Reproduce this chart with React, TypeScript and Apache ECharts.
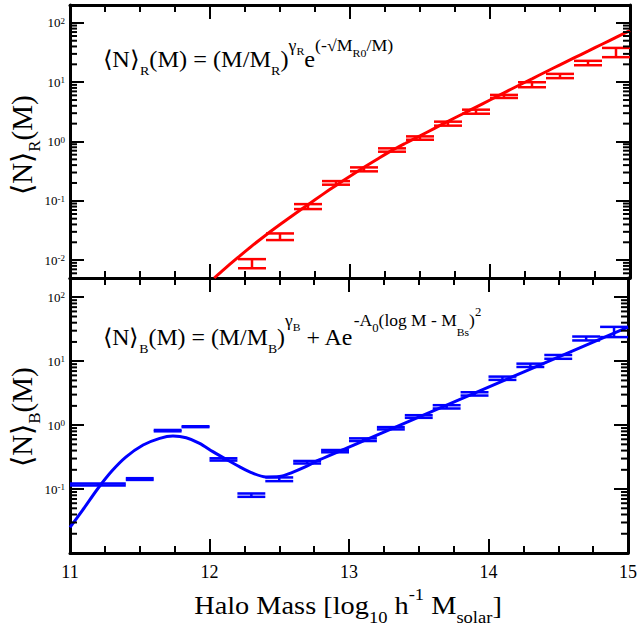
import React, { useEffect, useRef } from 'react';
import * as echarts from 'echarts';

// ---------- axis / tick data ----------
const X_MIN = 11;
const X_MAX = 15;
const xTickValues = [11, 12, 13, 14, 15];
const xTickLabels = ['11', '12', '13', '14', '15'];
const topYMin = 0.005;
const topYMax = 200;
const bottomYMin = 0.01;
const bottomYMax = 200;
const topYTickExps = [-2, -1, 0, 1, 2];
const bottomYTickExps = [-1, 0, 1, 2];
const minorMultipliers = [2, 3, 4, 5, 6, 7, 8, 9];
const minorDecades = [0.001, 0.01, 0.1, 1, 10, 100];

// ---------- red (top panel) ----------
const redBinLow = [12.2, 12.4, 12.6, 12.8, 13.0, 13.2, 13.4, 13.6, 13.8, 14.0, 14.2, 14.4, 14.6, 14.8];
const redBinHigh = [12.4, 12.6, 12.8, 13.0, 13.2, 13.4, 13.6, 13.8, 14.0, 14.2, 14.4, 14.6, 14.8, 15.0];
const redLow = [0.0073, 0.0218, 0.0726, 0.187, 0.314, 0.673, 1.07, 1.85, 2.94, 5.42, 8.22, 11.7, 19.3, 26.4];
const redHigh = [0.0104, 0.0282, 0.088, 0.215, 0.366, 0.767, 1.22, 2.16, 3.44, 6.1, 9.98, 13.8, 22.9, 37.8];

const redCurveX = [12.03, 12.1, 12.2, 12.3, 12.4, 12.5, 12.6, 12.7, 12.8, 12.9, 13.0, 13.1, 13.2, 13.3, 13.4, 13.5,
  13.6, 13.7, 13.8, 13.9, 14.0, 14.1, 14.2, 14.3, 14.4, 14.5, 14.6, 14.7, 14.8, 14.9, 15.0];
const redCurveY = [0.005, 0.007, 0.0111, 0.0174, 0.0266, 0.0398, 0.0589, 0.0861, 0.126, 0.182, 0.26, 0.367, 0.513, 0.708, 0.944, 1.245,
  1.65, 2.19, 2.88, 3.8, 5.01, 6.61, 8.71, 11.4, 15.0, 19.6, 25.6, 33.4, 43.6, 56.9, 74.1];

// ---------- blue (bottom panel) ----------
const blueBinLow = [11.0, 11.4, 11.6, 11.8, 12.0, 12.2, 12.4, 12.6, 12.8, 13.0, 13.2, 13.4, 13.6, 13.8, 14.0, 14.2, 14.4, 14.6, 14.8];
const blueBinHigh = [11.4, 11.6, 11.8, 12.0, 12.2, 12.4, 12.6, 12.8, 13.0, 13.2, 13.4, 13.6, 13.8, 14.0, 14.2, 14.4, 14.6, 14.8, 15.0];
const blueLow = [0.114, 0.139, 0.8, 0.93, 0.279, 0.0756, 0.133, 0.251, 0.376, 0.564, 0.857, 1.3, 1.82, 2.9, 5.1, 8.12, 10.9, 21.1, 23.8];
const blueHigh = [0.122, 0.148, 0.84, 0.96, 0.303, 0.0853, 0.152, 0.275, 0.408, 0.621, 0.931, 1.43, 2.05, 3.27, 5.74, 9.15, 12.5, 24.3, 34.4];

const blueCurveX = [11.0, 11.1, 11.2, 11.3, 11.4, 11.524, 11.643, 11.738, 11.833, 11.929, 12.024, 12.119, 12.214, 12.31, 12.405,
  12.5, 12.595, 12.69, 12.786, 13.0, 13.25, 13.5, 13.75, 14.0, 14.25, 14.5, 14.75, 15.0];
const blueCurveY = [0.0251, 0.0501, 0.102, 0.191, 0.316, 0.488, 0.621, 0.675, 0.635, 0.519, 0.385, 0.292, 0.224, 0.177, 0.155,
  0.157, 0.183, 0.224, 0.285, 0.452, 0.776, 1.33, 2.29, 3.94, 6.76, 11.6, 19.9, 34.1];

// ---------- helpers ----------
const SERIF = 'Liberation Serif';
const RED = '#ff0000';
const BLUE = '#0000ff';

const pairs = (xs: number[], ys: number[]) => xs.map((x, i) => [x, ys[i]]);
const bars = (lo: number[], hi: number[], yl: number[], yh: number[]) =>
  lo.map((x, i) => [x, hi[i], yl[i], yh[i]]);
const minorValues = (min: number, max: number) => {
  const out: number[][] = [];
  minorDecades.forEach((d) => minorMultipliers.forEach((m) => {
    const v = m * d;
    if (v > min * 1.0001 && v < max * 0.9999) out.push([X_MIN, v]);
  }));
  return out;
};

const errorBarRender = (color: string) => (params: any, api: any) => {
  const x0 = api.value(0), x1 = api.value(1), lo = api.value(2), hi = api.value(3);
  const a = api.coord([x0, lo]);
  const b = api.coord([x1, lo]);
  const c = api.coord([x0, hi]);
  const d = api.coord([x1, hi]);
  const xm = (a[0] + b[0]) / 2;
  const style = { stroke: color, lineWidth: 2.5 };
  return {
    type: 'group',
    children: [
      { type: 'line', shape: { x1: a[0], y1: a[1], x2: b[0], y2: b[1] }, style },
      { type: 'line', shape: { x1: c[0], y1: c[1], x2: d[0], y2: d[1] }, style },
      { type: 'line', shape: { x1: xm, y1: a[1], x2: xm, y2: c[1] }, style },
    ],
  };
};

const minorTickRender = (params: any, api: any) => {
  const cs = params.coordSys;
  const y = api.coord([X_MIN, api.value(1)])[1];
  const style = { stroke: '#000', lineWidth: 2 };
  return {
    type: 'group',
    children: [
      { type: 'line', shape: { x1: cs.x, y1: y, x2: cs.x + 7, y2: y }, style },
      { type: 'line', shape: { x1: cs.x + cs.width - 7, y1: y, x2: cs.x + cs.width, y2: y }, style },
    ],
  };
};

const axisLine = { show: true, onZero: false, lineStyle: { color: '#000', width: 3 } };
const tickStyle = { color: '#000', width: 2 };

const makeX = (gridIndex: number, position: 'top' | 'bottom', showLabel: boolean) => ({
  type: 'value',
  gridIndex,
  position,
  min: X_MIN,
  max: X_MAX,
  interval: 1,
  axisLine,
  axisTick: { show: true, inside: true, length: 14, lineStyle: tickStyle },
  minorTick: { show: true, splitNumber: 4, length: 7, lineStyle: tickStyle },
  splitLine: { show: false },
  minorSplitLine: { show: false },
  axisLabel: {
    show: showLabel,
    margin: 10,
    fontFamily: SERIF,
    fontSize: 18,
    color: '#000',
    formatter: (v: number) => {
      const i = xTickValues.findIndex((t) => Math.abs(t - v) < 1e-6);
      return i >= 0 ? xTickLabels[i] : '';
    },
  },
});

const makeY = (gridIndex: number, position: 'left' | 'right', min: number, max: number, exps: number[] | null) => ({
  type: 'log',
  logBase: 10,
  gridIndex,
  position,
  min,
  max,
  axisLine,
  axisTick: { show: true, inside: true, length: 14, lineStyle: tickStyle },
  splitLine: { show: false },
  axisLabel: {
    show: !!exps,
    margin: 5,
    color: '#000',
    fontFamily: SERIF,
    formatter: (v: number) => {
      const l = Math.log10(v);
      const e = Math.round(l);
      if (!exps || Math.abs(l - e) > 1e-6 || exps.indexOf(e) < 0) return '';
      return `{b|10}{s|${e}}`;
    },
    rich: {
      b: { fontFamily: SERIF, fontSize: 13, color: '#000' },
      s: { fontFamily: SERIF, fontSize: 9, color: '#000', verticalAlign: 'top' },
    },
  },
});

// formula rich styles
const formulaRich = {
  m: { fontFamily: SERIF, fontSize: 22.5, verticalAlign: 'bottom', padding: [0, 0, 9, 0] },
  sb: { fontFamily: SERIF, fontSize: 13, verticalAlign: 'bottom', padding: [0, 0, 2.5, 0] },
  sp: { fontFamily: SERIF, fontSize: 16.5, verticalAlign: 'bottom', padding: [0, 0, 26, 0] },
  sp2: { fontFamily: SERIF, fontSize: 16.5, verticalAlign: 'bottom', padding: [0, 0, 28, 0] },
  g2: { fontFamily: SERIF, fontSize: 16.5, verticalAlign: 'bottom', padding: [0, 0, 28, 0] },
  ss: { fontFamily: SERIF, fontSize: 11, verticalAlign: 'bottom', padding: [0, 0, 21, 0] },
  ssg: { fontFamily: SERIF, fontSize: 11, verticalAlign: 'bottom', padding: [0, 0, 23, 0] },
  ssb: { fontFamily: SERIF, fontSize: 11, verticalAlign: 'bottom', padding: [0, 0, 25, 0] },
  ss0: { fontFamily: SERIF, fontSize: 12, verticalAlign: 'bottom', padding: [0, 0, 23, 0] },
  ssBs: { fontFamily: SERIF, fontSize: 11, verticalAlign: 'bottom', padding: [0, 0, 20, 0] },
  sq: { fontFamily: SERIF, fontSize: 12, verticalAlign: 'bottom', padding: [0, 0, 39, 0] },
};

const topFormula =
  '{m|⟨N⟩}{sb|R}{m|(M) = (M/M}{sb|R}{m|)}{sp|γ}{ssg|R}{m|e}{sp|(-√M}{ss|R0}{sp|/M)}';
const bottomFormula =
  '{m|⟨N⟩}{sb|B}{m|(M) = (M/M}{sb|B}{m|)}{g2|γ}{ssb|B}{m| + Ae}{sp2|-A}{ss0|0}{sp2|(log M - M}{ssBs|Bs}{sp2|)}{sq|2}';

const yTitleRich = {
  m: { fontFamily: SERIF, fontSize: 29, verticalAlign: 'bottom', padding: [0, 0, 6, 0] },
  s: { fontFamily: SERIF, fontSize: 17, verticalAlign: 'bottom', padding: [0, 0, 0, 0] },
};

const xTitleRich = {
  m: { fontFamily: SERIF, fontSize: 26, verticalAlign: 'bottom', padding: [0, 0, 8, 0] },
  sb: { fontFamily: SERIF, fontSize: 17, verticalAlign: 'bottom', padding: [0, 0, 0, 0] },
  sp: { fontFamily: SERIF, fontSize: 17, verticalAlign: 'bottom', padding: [0, 0, 23, 0] },
};

const option: any = {
  animation: false,
  backgroundColor: '#fff',
  textStyle: { fontFamily: SERIF },
  grid: [
    { left: 70, top: 5, width: 560, height: 273 },
    { left: 70, top: 278, width: 560, height: 275 },
  ],
  xAxis: [
    makeX(0, 'bottom', false),
    makeX(0, 'top', false),
    makeX(1, 'top', false),
    makeX(1, 'bottom', true),
  ],
  yAxis: [
    makeY(0, 'left', topYMin, topYMax, topYTickExps),
    makeY(0, 'right', topYMin, topYMax, null),
    makeY(1, 'left', bottomYMin, bottomYMax, bottomYTickExps),
    makeY(1, 'right', bottomYMin, bottomYMax, null),
  ],
  series: [
    {
      type: 'custom', name: 'topMinor', xAxisIndex: 0, yAxisIndex: 0, silent: true, z: 5,
      data: minorValues(topYMin, topYMax), renderItem: minorTickRender, encode: { x: 0, y: 1 },
    },
    {
      type: 'custom', name: 'bottomMinor', xAxisIndex: 3, yAxisIndex: 2, silent: true, z: 5,
      data: minorValues(bottomYMin, bottomYMax), renderItem: minorTickRender, encode: { x: 0, y: 1 },
    },
    {
      type: 'custom', name: 'redBars', xAxisIndex: 0, yAxisIndex: 0, clip: true,
      data: bars(redBinLow, redBinHigh, redLow, redHigh), renderItem: errorBarRender(RED),
      encode: { x: [0, 1], y: [2, 3] },
    },
    {
      type: 'line', name: 'redFit', xAxisIndex: 0, yAxisIndex: 0, showSymbol: false, smooth: 0.3,
      data: pairs(redCurveX, redCurveY), lineStyle: { color: RED, width: 3 }, itemStyle: { color: RED },
    },
    {
      type: 'custom', name: 'blueBars', xAxisIndex: 3, yAxisIndex: 2, clip: true,
      data: bars(blueBinLow, blueBinHigh, blueLow, blueHigh), renderItem: errorBarRender(BLUE),
      encode: { x: [0, 1], y: [2, 3] },
    },
    {
      type: 'line', name: 'blueFit', xAxisIndex: 3, yAxisIndex: 2, showSymbol: false, smooth: 0.3,
      data: pairs(blueCurveX, blueCurveY), lineStyle: { color: BLUE, width: 3 }, itemStyle: { color: BLUE },
    },
  ],
  graphic: [
    {
      type: 'text', x: 103, y: 80, scaleX: 1.08, z: 10,
      style: { text: topFormula, rich: formulaRich, fontFamily: SERIF, fill: '#000', align: 'left', verticalAlign: 'bottom' },
    },
    {
      type: 'text', x: 103, y: 357.6, scaleX: 1.06, z: 10,
      style: { text: bottomFormula, rich: formulaRich, fontFamily: SERIF, fill: '#000', align: 'left', verticalAlign: 'bottom' },
    },
    {
      type: 'text', x: 25, y: 145, rotation: Math.PI / 2, z: 10,
      style: { text: '{m|⟨N⟩}{s|R}{m|(M)}', rich: yTitleRich, fontFamily: SERIF, fill: '#000', align: 'center', verticalAlign: 'middle' },
    },
    {
      type: 'text', x: 25, y: 417, rotation: Math.PI / 2, z: 10,
      style: { text: '{m|⟨N⟩}{s|B}{m|(M)}', rich: yTitleRich, fontFamily: SERIF, fill: '#000', align: 'center', verticalAlign: 'middle' },
    },
    {
      type: 'text', x: 348, y: 626, scaleX: 1.09, z: 10,
      style: {
        text: '{m|Halo Mass [log}{sb|10}{m| h}{sp|-1}{m| M}{sb|solar}{m|]}',
        rich: xTitleRich, fontFamily: SERIF, fill: '#000', align: 'center', verticalAlign: 'bottom',
      },
    },
  ],
};

export default function App() {
  const ref = useRef<HTMLDivElement>(null);
  useEffect(() => {
    if (!ref.current) return;
    const chart = echarts.init(ref.current, undefined, { renderer: 'svg' });
    chart.setOption(option);
    return () => chart.dispose();
  }, []);
  return (
    <div
      ref={ref}
      style={{ position: 'absolute', left: 0, top: 0, width: 640, height: 635, background: '#fff' }}
    />
  );
}
